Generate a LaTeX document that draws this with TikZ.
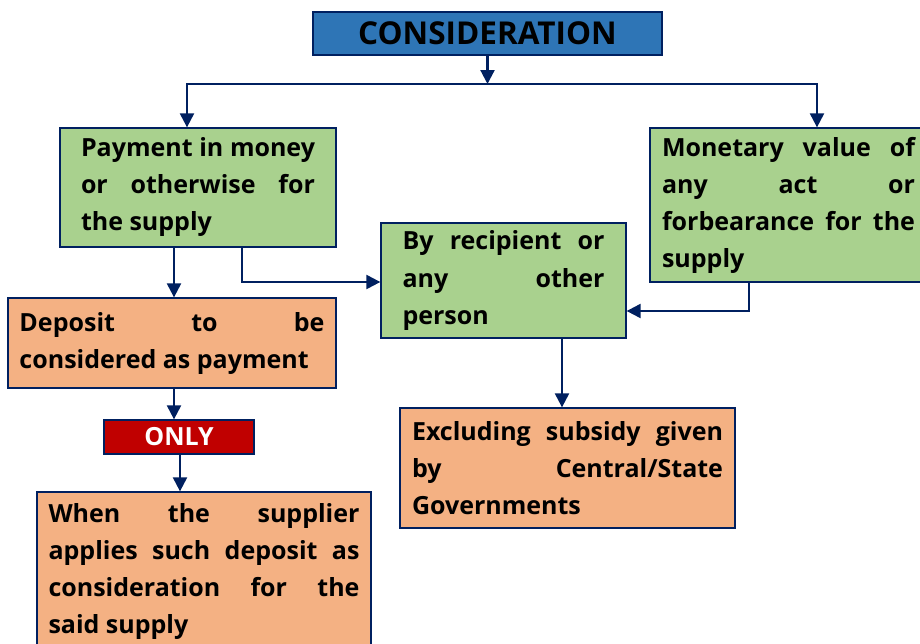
\documentclass[tikz,border=0pt]{standalone}
\usepackage{fontspec}
\setmainfont{Open Sans}
\usetikzlibrary{arrows.meta}
\definecolor{navy}{HTML}{002060}
\definecolor{hdrblue}{HTML}{2E75B6}
\definecolor{grnfill}{HTML}{A9D18E}
\definecolor{orgfill}{HTML}{F4B183}
\definecolor{onlyred}{HTML}{C00000}
\tolerance=10000
\hbadness=10000
\hyphenpenalty=10000
\begin{document}
\begin{tikzpicture}[x=1pt,y=-1pt,
        base/.style={draw=navy,rectangle,line width=1.3pt,align=justify,font=\bfseries\fontsize{25}{37}\selectfont},
        hdr/.style={draw=navy,rectangle,line width=1.3pt,fill=hdrblue,minimum width=349pt,minimum height=43pt,font=\bfseries\fontsize{31.5}{36}\selectfont},
        grn/.style={base,fill=grnfill},
        org/.style={base,fill=orgfill},
        tag/.style={draw=navy,rectangle,line width=1.3pt,fill=onlyred,text=white,minimum width=150pt,minimum height=34pt,font=\bfseries\fontsize{25}{30}\selectfont},
        arr/.style={navy,line width=2.2pt,-{Triangle[width=14pt,length=14pt]}},
        link/.style={navy,line width=2.2pt}
      ]
      \useasboundingbox (0,0) rectangle (920,643);
      \node[hdr] (cons) at (487.5,33.5) {CONSIDERATION};
      \node[grn,minimum width=276pt,minimum height=119pt,text width=234pt] (pay) at (198,187.5) {Payment in money\linebreak or otherwise for\linebreak the supply};
      \node[grn,minimum width=277pt,minimum height=154pt,text width=253pt] (mon) at (788.5,205) {Monetary value of\linebreak any act or\linebreak forbearance for the\linebreak supply};
      \node[grn,minimum width=245pt,minimum height=115pt,text width=202pt] (rec) at (503.5,280.5) {By recipient or\linebreak any other\linebreak person};
      \node[org,minimum width=328pt,minimum height=90pt,text width=305pt] (dep) at (172,343) {Deposit to be\linebreak considered as payment};
      \node[tag] (only) at (179,437) {ONLY};
      \node[org,minimum width=334pt,minimum height=158pt,text width=311pt] (when) at (204,571) {When the supplier\linebreak applies such deposit as\linebreak consideration for the\linebreak said supply};
      \node[org,minimum width=335pt,minimum height=120pt,text width=311pt] (excl) at (567.5,468) {Excluding subsidy given\linebreak by Central/State\linebreak Governments};
      % connectors
      \coordinate (split) at (cons.south |- 0,84);
      \draw[arr] (cons.south) -- (split);
      \draw[link] ([xshift=-11pt]pay.north |- split) -- ([xshift=28.5pt]mon.north |- split);
      \draw[arr] (split) -| ([xshift=-11pt]pay.north);
      \draw[arr] (split) -| ([xshift=28.5pt]mon.north);
      \draw[arr] ([xshift=44pt]pay.south) |- ([yshift=-1.5pt]rec.west);
      \draw[arr] ([xshift=-39.5pt]mon.south) |- ([yshift=-30.5pt]rec.east);
      \draw[arr] ([xshift=-24pt]pay.south) -- ([xshift=-24pt]pay.south |- dep.north);
      \draw[arr] ([xshift=2pt]dep.south) -- ([xshift=2pt]dep.south |- only.north);
      \draw[arr] ([xshift=1pt]only.south) -- ([xshift=1pt]only.south |- when.north);
      \draw[arr] ([xshift=58.5pt]rec.south) -- ([xshift=58.5pt]rec.south |- excl.north);
    \end{tikzpicture}
\end{document}
